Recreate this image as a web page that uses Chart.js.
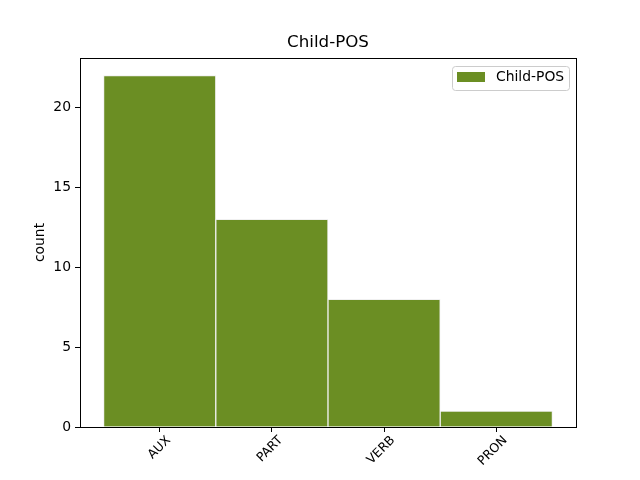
<!DOCTYPE html>
<html><head><meta charset="utf-8">
<script src="https://cdn.jsdelivr.net/npm/chart.js@4/dist/chart.umd.min.js"></script>
<style>html,body{margin:0;padding:0;background:#fff}</style>
</head><body>
<canvas id="c" width="640" height="480"></canvas>
<script>
const categories = ['AUX', 'PART', 'VERB', 'PRON'];
const counts = [22, 13, 8, 1];
const yTicks = [0, 5, 10, 15, 20];
const seriesName = 'Child-POS';
const chartTitle = 'Child-POS';
const yLabel = 'count';

const FONT = "'DejaVu Sans', sans-serif";
const BAR_COLOR = '#6b8e23';

const framePlugin = {
  id: 'frame',
  afterDraw(chart) {
    const ctx = chart.ctx, a = chart.chartArea;
    ctx.save();
    ctx.strokeStyle = '#000';
    ctx.lineWidth = 1;
    ctx.strokeRect(Math.round(a.left) + 0.5, Math.round(a.top) + 0.5, Math.round(a.right - a.left), Math.round(a.bottom - a.top));
    // title
    ctx.fillStyle = '#000';
    ctx.font = "16.7px " + FONT;
    ctx.textAlign = 'center';
    ctx.textBaseline = 'middle';
    ctx.fillText(chartTitle, (a.left + a.right) / 2, 43);
    // legend
    const x = 452.5, y = 66.5, w = 117, h = 24, r = 3;
    ctx.strokeStyle = '#cccccc';
    ctx.fillStyle = 'rgba(255,255,255,0.8)';
    ctx.beginPath();
    ctx.roundRect(x, y, w, h, r);
    ctx.fill();
    ctx.stroke();
    ctx.fillStyle = chart.data.datasets[0].backgroundColor;
    ctx.fillRect(457, 72, 28, 10);
    ctx.fillStyle = '#000';
    ctx.font = "13.9px " + FONT;
    ctx.textAlign = 'left';
    ctx.textBaseline = 'middle';
    ctx.fillText(chart.data.datasets[0].label, 496, 77);
    ctx.restore();
  }
};

new Chart(document.getElementById('c'), {
  type: 'bar',
  data: {
    datasets: [{
      label: seriesName,
      data: counts.map((v, i) => ({ x: i, y: v })),
      backgroundColor: BAR_COLOR,
      borderColor: '#f0f0f0',
      borderWidth: 1,
      barPercentage: 1,
      categoryPercentage: 1
    }]
  },
  options: {
    responsive: false,
    animation: false,
    devicePixelRatio: 1,
    layout: { padding: { left: 0, right: 64, top: 58, bottom: 0 } },
    plugins: {
      title: { display: false },
      tooltip: { enabled: false },
      legend: { display: false }
    },
    scales: {
      x: {
        type: 'linear',
        offset: false,
        min: -0.71,
        max: 3.71,
        afterBuildTicks(scale) { scale.ticks = categories.map((c, i) => ({ value: i })); },
        afterFit(scale) { scale.height = 53; },
        grid: { display: true, offset: false, drawOnChartArea: false, drawTicks: true, tickLength: 5, tickColor: '#000' },
        border: { display: true, color: '#000', width: 1 },
        ticks: {
          autoSkip: false,
          minRotation: 45,
          maxRotation: 45,
          labelOffset: 9,
          padding: 1,
          color: '#000',
          font: { family: FONT, size: 12.5 },
          callback: (v) => categories[v] ?? ''
        }
      },
      y: {
        min: 0,
        max: 23.1,
        afterBuildTicks(scale) { scale.ticks = yTicks.map(v => ({ value: v })); },
        afterFit(scale) { scale.width = 80; },
        grid: { display: true, drawOnChartArea: false, drawTicks: true, tickLength: 5, tickColor: '#000' },
        border: { display: true, color: '#000', width: 1 },
        ticks: {
          padding: 4,
          color: '#000',
          font: { family: FONT, size: 13.9 }
        },
        title: {
          display: true,
          text: yLabel,
          color: '#000',
          font: { family: FONT, size: 13.9 },
          padding: { top: 32, bottom: 0 }
        }
      }
    }
  },
  plugins: [framePlugin]
});
</script>
</body></html>
